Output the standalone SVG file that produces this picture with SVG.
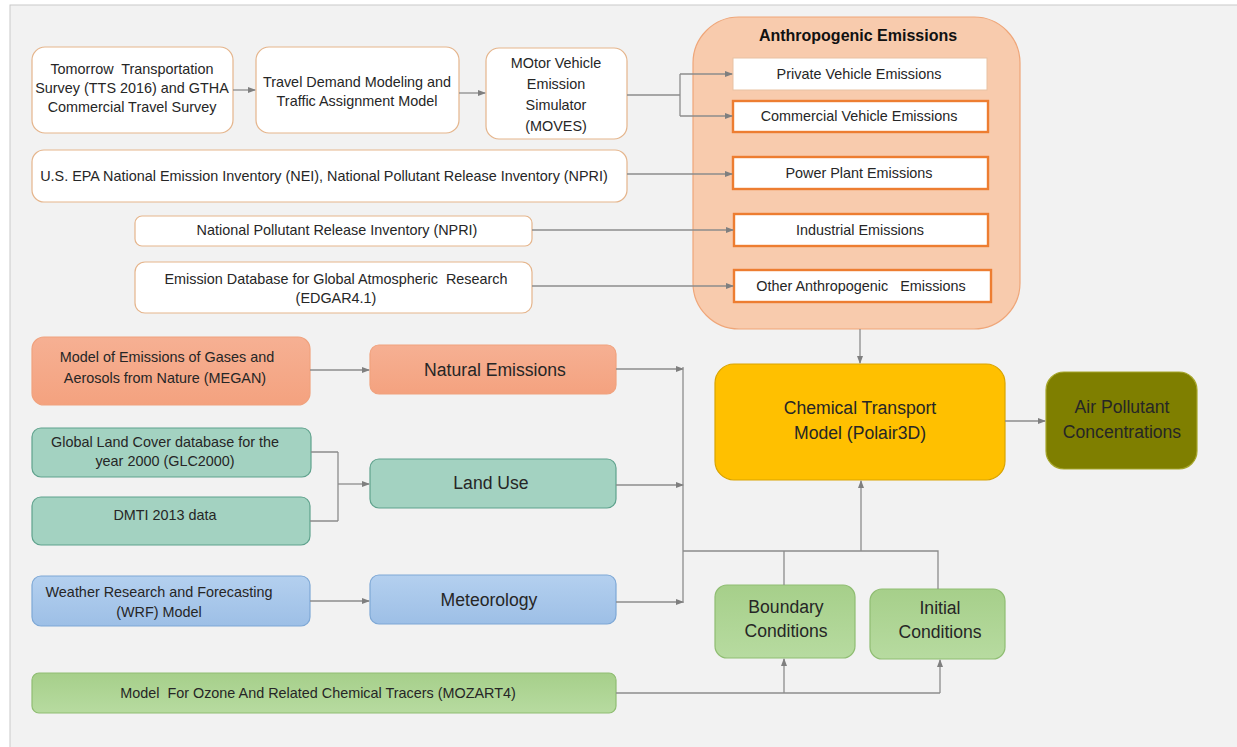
<svg xmlns="http://www.w3.org/2000/svg" width="1237" height="747" viewBox="0 0 1237 747">
<defs>
<marker id="arr" markerWidth="8" markerHeight="8" refX="7" refY="4" orient="auto" markerUnits="userSpaceOnUse">
<path d="M0,1 L8,4 L0,7 Z" fill="#7f7f7f"/>
</marker>
<linearGradient id="gBlue" x1="0" y1="0" x2="0" y2="1"><stop offset="0" stop-color="#b4d0ef"/><stop offset="1" stop-color="#9dbfe6"/></linearGradient>
<linearGradient id="gGreen" x1="0" y1="0" x2="0" y2="1"><stop offset="0" stop-color="#a6cf8a"/><stop offset="1" stop-color="#b7dba0"/></linearGradient>
<linearGradient id="gSalmon" x1="0" y1="0" x2="0" y2="1"><stop offset="0" stop-color="#f6b093"/><stop offset="1" stop-color="#f4a27f"/></linearGradient>
<style>
text{font-family:"Liberation Sans",Arial,sans-serif;fill:#262626;text-anchor:middle}
.t{font-size:14.4px}
.b{font-size:17.6px}
.src{fill:#ffffff;stroke:#e5b58c;stroke-width:1.2}
.inner{fill:#ffffff;stroke:#ed7d31;stroke-width:2.4}
.salmon{fill:url(#gSalmon);stroke:#f0a27e;stroke-width:1.2}
.teal{fill:#a3d2c1;stroke:#5fa28d;stroke-width:1.2}
.blue{fill:url(#gBlue);stroke:#7ea8d6;stroke-width:1.2}
.green{fill:url(#gGreen);stroke:#8fbd72;stroke-width:1.2}
.c{fill:none;stroke:#8c8c8c;stroke-width:1.3}
</style>
</defs>
<rect x="0" y="0" width="1237" height="747" fill="#ffffff"/>
<rect x="10" y="5" width="1240" height="760" fill="#f2f2f2" stroke="#c9c9c9" stroke-width="1"/>

<g id="tts">
<rect class="src" x="32" y="47" width="201" height="86" rx="13"/>
<text class="t" x="132" y="74" style="white-space:pre">Tomorrow  Transportation</text>
<text class="t" x="132" y="93">Survey (TTS 2016) and GTHA</text>
<text class="t" x="132" y="112">Commercial Travel Survey</text>
</g>
<g id="travel-demand">
<rect class="src" x="256" y="47" width="203" height="86" rx="13"/>
<text class="t" x="357" y="87">Travel Demand Modeling and</text>
<text class="t" x="357" y="106">Traffic Assignment Model</text>
</g>
<g id="moves">
<rect class="src" x="486" y="48" width="141" height="91" rx="13"/>
<text class="t" x="556" y="68">MOtor Vehicle</text>
<text class="t" x="556" y="89">Emission</text>
<text class="t" x="556" y="110">Simulator</text>
<text class="t" x="556" y="131">(MOVES)</text>
</g>
<g id="nei">
<rect class="src" x="32" y="150" width="595" height="52" rx="12"/>
<text class="t" x="324" y="181">U.S. EPA National Emission Inventory (NEI), National Pollutant Release Inventory (NPRI)</text>
</g>
<g id="npri">
<rect class="src" x="135" y="216" width="397" height="30" rx="7"/>
<text class="t" x="337" y="235">National Pollutant Release Inventory (NPRI)</text>
</g>
<g id="edgar">
<rect class="src" x="135" y="262" width="397" height="51" rx="10"/>
<text class="t" x="336" y="284" style="white-space:pre">Emission Database for Global Atmospheric  Research</text>
<text class="t" x="336" y="303">(EDGAR4.1)</text>
</g>

<g id="anthropogenic">
<rect x="693" y="17" width="327" height="312" rx="46" fill="#f8cbad" stroke="#efa679" stroke-width="1.2"/>
<text x="858" y="41" style="font-size:16px;font-weight:bold;fill:#111">Anthropogenic Emissions</text>
<g id="private">
<rect x="733" y="58" width="254" height="32" fill="#ffffff" stroke="#e8c2a3" stroke-width="1"/>
<text class="t" x="859" y="79">Private Vehicle Emissions</text>
</g>
<g id="commercial">
<rect class="inner" x="733" y="101" width="255" height="31"/>
<text class="t" x="859" y="121">Commercial Vehicle Emissions</text>
</g>
<g id="power">
<rect class="inner" x="733" y="157" width="255" height="32"/>
<text class="t" x="859" y="178">Power Plant Emissions</text>
</g>
<g id="industrial">
<rect class="inner" x="734" y="214" width="254" height="32"/>
<text class="t" x="860" y="235">Industrial Emissions</text>
</g>
<g id="other">
<rect class="inner" x="734" y="270" width="257" height="32"/>
<text class="t" x="861" y="291" style="white-space:pre">Other Anthropogenic   Emissions</text>
</g>
</g>

<g id="megan">
<rect class="salmon" x="32" y="337" width="278" height="68" rx="12"/>
<text class="t" x="167" y="362">Model of Emissions of Gases and</text>
<text class="t" x="165" y="383">Aerosols from Nature (MEGAN)</text>
</g>
<g id="natural">
<rect class="salmon" x="370" y="345" width="246" height="49" rx="9"/>
<text class="b" x="495" y="376">Natural Emissions</text>
</g>
<g id="glc">
<rect class="teal" x="32" y="428" width="279" height="49" rx="9"/>
<text class="t" x="165" y="447">Global Land Cover database for the</text>
<text class="t" x="165" y="466">year 2000 (GLC2000)</text>
</g>
<g id="dmti">
<rect class="teal" x="32" y="497" width="278" height="48" rx="9"/>
<text class="t" x="165" y="520">DMTI 2013 data</text>
</g>
<g id="landuse">
<rect class="teal" x="370" y="459" width="246" height="49" rx="9"/>
<text class="b" x="491" y="489">Land Use</text>
</g>
<g id="wrf">
<rect class="blue" x="32" y="576" width="278" height="50" rx="9"/>
<text class="t" x="159" y="597">Weather Research and Forecasting</text>
<text class="t" x="159" y="617">(WRF) Model</text>
</g>
<g id="meteorology">
<rect class="blue" x="370" y="575" width="246" height="49" rx="9"/>
<text class="b" x="489" y="606">Meteorology</text>
</g>
<g id="mozart">
<rect class="green" x="32" y="673" width="584" height="40" rx="7"/>
<text class="t" x="318" y="698" style="white-space:pre">Model  For Ozone And Related Chemical Tracers (MOZART4)</text>
</g>

<g id="ctm">
<rect x="715" y="364" width="290" height="116" rx="19" fill="#ffc000" stroke="#d9a400" stroke-width="1.2"/>
<text class="b" x="860" y="414">Chemical Transport</text>
<text class="b" x="860" y="439">Model (Polair3D)</text>
</g>
<g id="air-pollutant">
<rect x="1046" y="372" width="151" height="97" rx="18" fill="#7f7f00" stroke="#a6a62a" stroke-width="1.2"/>
<text class="b" x="1122" y="413">Air Pollutant</text>
<text class="b" x="1122" y="438">Concentrations</text>
</g>
<g id="boundary">
<rect class="green" x="715" y="585" width="140" height="73" rx="12"/>
<text class="b" x="786" y="613">Boundary</text>
<text class="b" x="786" y="637">Conditions</text>
</g>
<g id="initial">
<rect class="green" x="870" y="589" width="135" height="70" rx="12"/>
<text class="b" x="940" y="614">Initial</text>
<text class="b" x="940" y="638">Conditions</text>
</g>

<g id="connectors">
<path class="c" d="M233,90 H255" marker-end="url(#arr)"/>
<path class="c" d="M459,93 H485" marker-end="url(#arr)"/>
<path class="c" d="M627,95 H680"/>
<path class="c" d="M680,74 V116"/>
<path class="c" d="M680,74 H732" marker-end="url(#arr)"/>
<path class="c" d="M680,116 H732" marker-end="url(#arr)"/>
<path class="c" d="M627,174 H732" marker-end="url(#arr)"/>
<path class="c" d="M532,230 H733" marker-end="url(#arr)"/>
<path class="c" d="M532,286 H733" marker-end="url(#arr)"/>
<path class="c" d="M860,329 V363" marker-end="url(#arr)"/>
<path class="c" d="M310,370 H369" marker-end="url(#arr)"/>
<path class="c" d="M311,452 H338 M310,521 H338 M338,452 V521"/>
<path class="c" d="M338,484 H369" marker-end="url(#arr)"/>
<path class="c" d="M310,601 H369" marker-end="url(#arr)"/>
<path class="c" d="M616,369 H683" marker-end="url(#arr)"/>
<path class="c" d="M616,485 H683" marker-end="url(#arr)"/>
<path class="c" d="M616,602 H683" marker-end="url(#arr)"/>
<path class="c" d="M683,367 V603"/>
<path class="c" d="M683,551 H938 V589 M784,551 V585"/>
<path class="c" d="M861,551 V481" marker-end="url(#arr)"/>
<path class="c" d="M1005,421 H1045" marker-end="url(#arr)"/>
<path class="c" d="M616,693 H940"/>
<path class="c" d="M784,693 V659" marker-end="url(#arr)"/>
<path class="c" d="M940,693 V660" marker-end="url(#arr)"/>
</g>
</svg>
